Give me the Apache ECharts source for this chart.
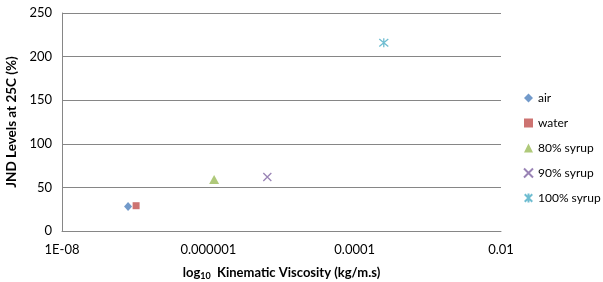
<!DOCTYPE html>
<html>
<head>
<meta charset="utf-8">
<script src="https://cdn.jsdelivr.net/npm/echarts@6/dist/echarts.min.js"></script>
<style>
    html, body { margin: 0; padding: 0; background: #fff; }
    #chart { width: 603px; height: 282px; }
</style>
</head>
<body>
<div id="chart"></div>
<script>
// 数据
var seriesNames = ['air', 'water', '80% syrup', '90% syrup', '100% syrup'];
var viscosity = [8.0e-8, 1.03e-7, 1.2e-6, 6.4e-6, 2.5e-4];
var jndLevels = [28, 29, 59, 62, 216];
var xTickLabels = ['1E-08', '0.000001', '0.0001', '0.01'];

var colors = ['#4F81BD', '#C0504D', '#9BBB59', '#8064A2', '#4BACC6'];
var crossPath = 'path://M0,0L10,10M10,0L0,10';
var starPath = 'path://M0,0L10,10M10,0L0,10M5,-1L5,11';
var symbols = ['diamond', 'rect', 'triangle', crossPath, starPath];
var sizes = [[8, 9], 7, [10, 9], 8, 9];

var FONT = 'Lato';

let chart = echarts.init(document.getElementById('chart'));

let series = seriesNames.map((name, i) => {
    let stroked = i >= 3;
    return {
        name: name,
        type: 'scatter',
        data: [[viscosity[i], jndLevels[i]]],
        symbol: symbols[i],
        symbolSize: sizes[i],
        itemStyle: stroked ? {
            color: 'rgba(0,0,0,0)',
            borderColor: colors[i],
            borderWidth: 1.3
        } : { color: colors[i] },
        emphasis: { disabled: true }
    };
});

let option = {
    animation: false,
    textStyle: { fontFamily: FONT },
    grid: {
        left: 62,
        right: 102,
        top: 13,
        bottom: 51,
        outerBoundsMode: 'none',
        containLabel: false
    },
    xAxis: {
        type: 'log',
        logBase: 100,
        min: 1e-8,
        max: 1e-2,
        name: '{b|log}{s|10}{b|  Kinematic Viscosity (kg/m.s)}',
        nameLocation: 'middle',
        nameGap: 33,
        nameTextStyle: {
            rich: {
                b: { fontFamily: FONT, fontSize: 13, fontWeight: 'bold', color: '#000' },
                s: { fontFamily: FONT, fontSize: 9, fontWeight: 'bold', color: '#000', verticalAlign: 'bottom', padding: [8, 0, 0, 0] }
            }
        },
        axisLine: { show: true, lineStyle: { color: '#868686', width: 1 } },
        axisTick: { show: false },
        splitLine: { show: false },
        axisLabel: {
            margin: 12,
            fontSize: 13,
            color: '#000',
            formatter: function (value) {
                let idx = Math.round((Math.log10(value) + 8) / 2);
                return xTickLabels[idx] || '';
            }
        }
    },
    yAxis: {
        type: 'value',
        min: 0,
        max: 250,
        interval: 50,
        name: 'JND Levels at 25C (%)',
        nameLocation: 'middle',
        nameGap: 29,
        nameTextStyle: { fontSize: 13.5, fontWeight: 'bold', color: '#000' },
        axisLine: { show: true, lineStyle: { color: '#868686', width: 1 } },
        axisTick: { show: false },
        splitLine: { show: true, lineStyle: { color: '#868686', width: 1 } },
        axisLabel: { margin: 10, fontSize: 13, color: '#000' }
    },
    legend: {
        orient: 'vertical',
        left: 518,
        top: 86,
        padding: 5,
        itemGap: 11,
        itemWidth: 9,
        itemHeight: 9,
        textStyle: { fontSize: 12, color: '#000', lineHeight: 14 },
        data: seriesNames
    },
    series: series
};

chart.setOption(option);
</script>
</body>
</html>
